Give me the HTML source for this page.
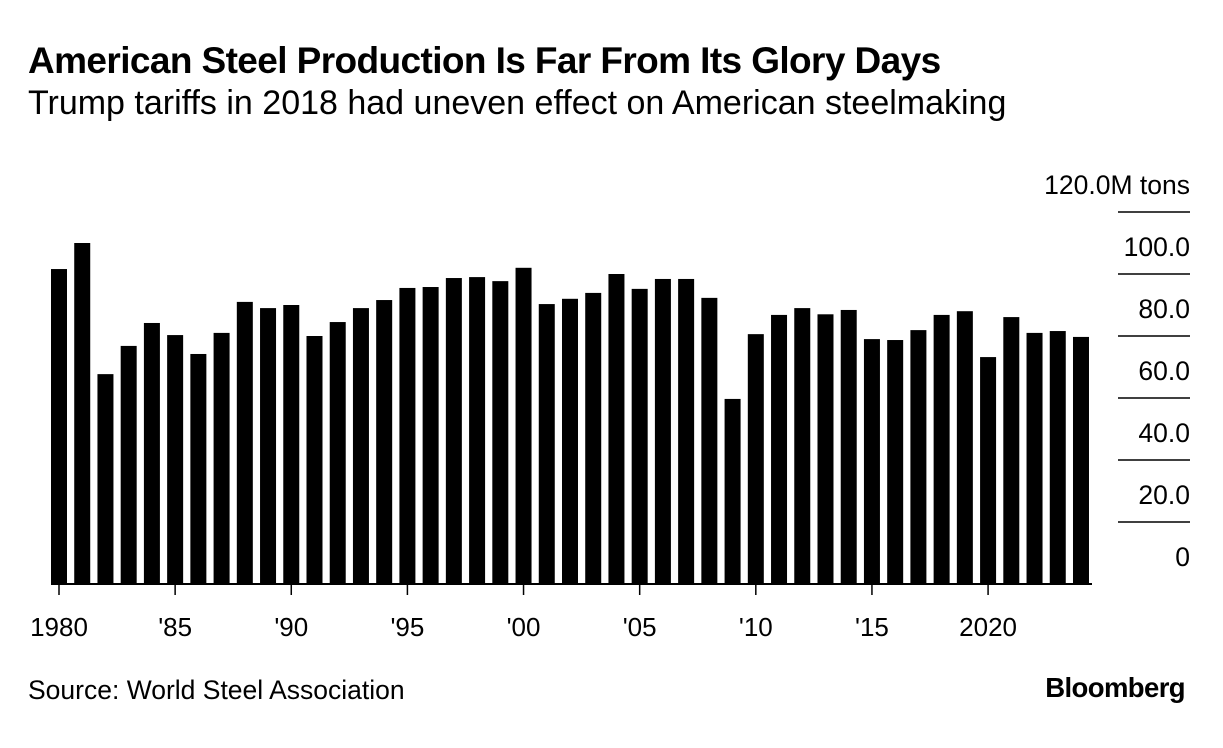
<!DOCTYPE html>
<html><head><meta charset="utf-8"><style>
body{margin:0;background:#fff;font-family:"Liberation Sans",sans-serif;}
#wrap{position:relative;width:1223px;height:748px;overflow:hidden;}
</style></head><body>
<div id="wrap">
<div style="position:absolute;left:28px;top:40px;font-size:37px;font-weight:bold;letter-spacing:-0.6px;color:#000;white-space:nowrap">American Steel Production Is Far From Its Glory Days</div>
<div style="position:absolute;left:28px;top:84px;font-size:34px;color:#000;white-space:nowrap">Trump tariffs in 2018 had uneven effect on American steelmaking</div>
<svg id="chart" width="1223" height="748" style="position:absolute;left:0;top:0"></svg>
<div style="position:absolute;left:28px;top:675px;font-size:26.5px;color:#000;white-space:nowrap">Source: World Steel Association</div>
<div style="position:absolute;right:38px;top:672px;font-size:27.5px;font-weight:bold;letter-spacing:-0.6px;color:#000">Bloomberg</div>
</div>
<script>
const years=[1980,1981,1982,1983,1984,1985,1986,1987,1988,1989,1990,1991,1992,1993,1994,1995,1996,1997,1998,1999,2000,2001,2002,2003,2004,2005,2006,2007,2008,2009,2010,2011,2012,2013,2014,2015,2016,2017,2018,2019,2020,2021,2022,2023,2024];
const values=[101.6,110,67.7,76.8,84.2,80.3,74.2,81,91,89,90,80,84.5,89,91.6,95.5,95.8,98.7,99,97.7,102,90.3,92,93.9,100,95.2,98.4,98.4,92.3,59.7,80.6,86.8,89,87,88.4,79,78.7,81.9,86.8,88,73.2,86.1,81,81.6,79.7];
const yTicks=[0,20,40,60,80,100,120];
const yTickLabels=["0","20.0","40.0","60.0","80.0","100.0","120.0M tons"];
const xLabelYears=[1980,1985,1990,1995,2000,2005,2010,2015,2020];
const xLabels=["1980","'85","'90","'95","'00","'05","'10","'15","2020"];
const NS="http://www.w3.org/2000/svg";
const svg=document.getElementById('chart');
const y=v=>584-v*3.1;
const x=yr=>59+(yr-1980)*23.227;
const bw=16;
function mk(t,a){const e=document.createElementNS(NS,t);for(const k in a)e.setAttribute(k,a[k]);svg.appendChild(e);return e;}
yTicks.forEach((t,i)=>{
  if(t>0){const l=mk('line',{x1:1118,x2:1190,y1:y(t),y2:y(t),stroke:'#000','stroke-width':1.5});
  
  }
  const tx=mk('text',{x:1190,y:y(t)-18,'text-anchor':'end','font-size':26.5,fill:'#000','font-family':'Liberation Sans, sans-serif'});
  tx.textContent=yTickLabels[i];
  
  
});
years.forEach((yr,i)=>{
  const r=mk('rect',{x:x(yr)-bw/2,y:y(values[i]),width:bw,height:584-y(values[i]),fill:'#000'});
  
  
});
const base=mk('line',{x1:51,x2:1092,y1:584,y2:584,stroke:'#000','stroke-width':2});


xLabelYears.forEach((yr,i)=>{
  const tk=mk('line',{x1:x(yr),x2:x(yr),y1:584,y2:595,stroke:'#000','stroke-width':1.5});
  
  
  const tx=mk('text',{x:x(yr),y:636,'text-anchor':'middle','font-size':26,fill:'#000','font-family':'Liberation Sans, sans-serif'});
  tx.textContent=xLabels[i];
  
  
});
</script>
</body></html>
